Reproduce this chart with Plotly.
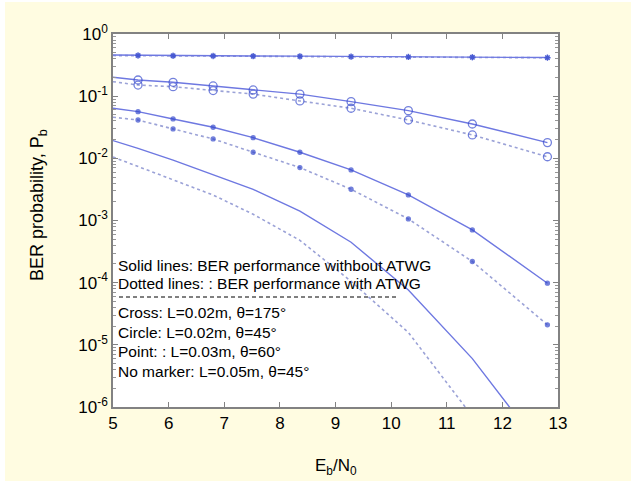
import plotly.graph_objects as go

# ---- data ----
ebn0 = [5.0, 5.45, 6.08, 6.8, 7.52, 8.36, 9.28, 10.31, 11.46, 12.81]

cross_solid = [0.46, 0.455, 0.45, 0.447, 0.443, 0.44, 0.435, 0.43, 0.425, 0.418]
cross_dotted = [0.45, 0.447, 0.443, 0.44, 0.437, 0.433, 0.43, 0.425, 0.42, 0.415]

circle_solid = [0.201, 0.182, 0.167, 0.146, 0.126, 0.108, 0.0816, 0.0585, 0.0357, 0.0179]
circle_dotted = [0.171, 0.151, 0.142, 0.123, 0.108, 0.0837, 0.0639, 0.0414, 0.0238, 0.0106]

point_solid = [0.064, 0.0564, 0.043, 0.0316, 0.0215, 0.01253, 0.00651, 0.00258, 0.000706, 9.8e-5]
point_dotted = [0.0458, 0.0414, 0.0297, 0.0205, 0.01253, 0.0071, 0.00318, 0.00106, 2.19e-4, 2.1e-5]

nomark_solid = [0.0193, 0.01445, 0.00933, 0.0055, 0.00316, 0.00141, 4.47e-4, 7.6e-5, 6.0e-6, 1.6e-7]
nomark_dotted = [0.0105, 0.0074, 0.00447, 0.00257, 0.00126, 4.8e-4, 1.05e-4, 1.58e-5, 7.1e-7, None]

y_tickvals = [1, 0.1, 0.01, 1e-3, 1e-4, 1e-5, 1e-6]
y_ticktext = ["10<sup>0</sup>", "10<sup>-1</sup>", "10<sup>-2</sup>", "10<sup>-3</sup>",
              "10<sup>-4</sup>", "10<sup>-5</sup>", "10<sup>-6</sup>"]
x_tickvals = [5, 6, 7, 8, 9, 10, 11, 12, 13]

notes = [
    "Solid lines: BER performance withbout ATWG",
    "Dotted lines: : BER performance with ATWG",
    "Cross: L=0.02m, \u03b8=175\u00b0",
    "Circle: L=0.02m, \u03b8=45\u00b0",
    "Point: : L=0.03m, \u03b8=60\u00b0",
    "No marker: L=0.05m, \u03b8=45\u00b0",
]

# ---- styles ----
SOLID = "rgb(110,120,225)"
DOT = "rgb(155,162,215)"
MARK = "rgb(55,75,205)"
FONT = "Liberation Sans, Arial, sans-serif"

fig = go.Figure()


def add(y, dotted, symbol=None, size=5):
    line = dict(color=DOT if dotted else SOLID, width=1.6 if dotted else 1.4,
                dash="dot" if dotted else "solid")
    if symbol is None:
        fig.add_trace(go.Scatter(x=ebn0, y=y, mode="lines", line=line,
                                 showlegend=False, connectgaps=False))
    else:
        sizes = [0] + [size] * (len(ebn0) - 1)
        marker = dict(symbol=symbol, size=sizes, color=MARK,
                      line=dict(color=MARK, width=1.3))
        fig.add_trace(go.Scatter(x=ebn0, y=y, mode="lines+markers", line=line,
                                 marker=marker, showlegend=False))


add(cross_dotted, True, "asterisk-open", 5)
add(cross_solid, False, "asterisk-open", 5)
add(circle_dotted, True, "circle-open", 8)
add(circle_solid, False, "circle-open", 8)
add(point_dotted, True, "circle", 4)
add(point_solid, False, "circle", 4)
add(nomark_dotted, True)
add(nomark_solid, False)

# layout geometry
L, R, T, B = 113, 558, 34, 407
W, H = 631, 485
pw, ph = R - L, B - T


def px_x(x):
    return (x - L) / pw


def px_y(y):
    return (B - y) / ph


shapes = [
    dict(type="rect", xref="paper", yref="paper", x0=px_x(5), x1=px_x(631),
         y0=px_y(481), y1=px_y(2), fillcolor="#FFFCE1", line=dict(width=0), layer="below"),
    dict(type="rect", xref="paper", yref="paper", x0=0, x1=1, y0=0, y1=1,
         fillcolor="white", line=dict(width=0), layer="below"),
    dict(type="line", xref="paper", yref="paper", x0=px_x(119), x1=px_x(398),
         y0=px_y(297), y1=px_y(297), line=dict(color="black", width=1, dash="4px,3px")),
]

note_y = [265, 283, 312, 332, 351, 371]
annotations = []
for t, yy in zip(notes, note_y):
    annotations.append(dict(text=t, xref="paper", yref="paper", x=px_x(116), y=px_y(yy),
                            xanchor="left", yanchor="middle", showarrow=False,
                            font=dict(family=FONT, size=15.5, color="black")))
annotations.append(dict(text="BER probability, P<sub>b</sub>", xref="paper", yref="paper",
                        x=px_x(38), y=px_y(205), textangle=-90, xanchor="center",
                        yanchor="middle", showarrow=False,
                        font=dict(family=FONT, size=18, color="black")))
annotations.append(dict(text="E<sub>b</sub>/N<sub>0</sub>", xref="paper", yref="paper",
                        x=px_x(336), y=px_y(467), xanchor="center", yanchor="middle",
                        showarrow=False, font=dict(family=FONT, size=17, color="black")))

axis_common = dict(showline=True, linecolor="rgb(130,130,130)", linewidth=1.5,
                   mirror="ticks", ticks="inside", ticklen=5, tickcolor="rgb(130,130,130)",
                   showgrid=False, zeroline=False,
                   tickfont=dict(family=FONT, size=17, color="black"))

fig.update_layout(
    width=W, height=H,
    margin=dict(l=L, r=W - R, t=T, b=H - B),
    paper_bgcolor="white", plot_bgcolor="rgba(0,0,0,0)",
    shapes=shapes, annotations=annotations,
    xaxis=dict(range=[5, 13], tickvals=x_tickvals, **axis_common),
    yaxis=dict(type="log", range=[-6, 0], tickvals=y_tickvals, ticktext=y_ticktext,
               minor=dict(ticks="inside", ticklen=3, tickcolor="rgb(150,150,150)",
                          dtick="D1", showgrid=False),
               **axis_common),
)

fig.write_html("out.html", config={"displayModeBar": False},
               post_script="document.body.style.margin='0px';")
